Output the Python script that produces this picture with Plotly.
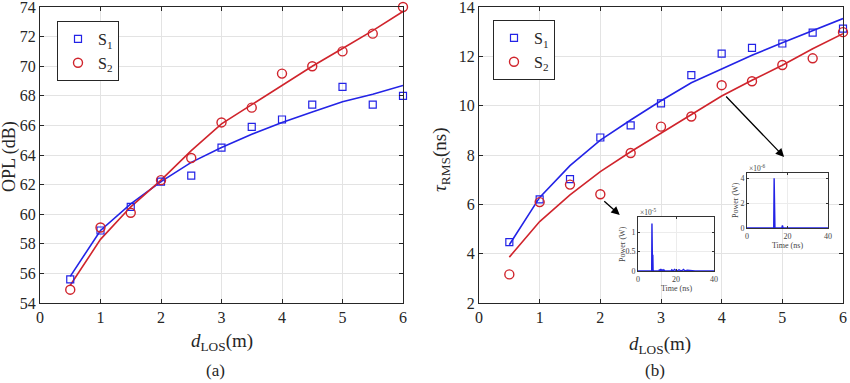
import plotly.graph_objects as go

# ---------------- data ----------------
d = [0.5, 1, 1.5, 2, 2.5, 3, 3.5, 4, 4.5, 5, 5.5, 6]
opl_s1 = [55.6, 58.9, 60.5, 62.2, 62.6, 64.5, 65.9, 66.4, 67.4, 68.6, 67.4, 68.0]
opl_s2 = [54.9, 59.1, 60.1, 62.3, 63.8, 66.2, 67.2, 69.5, 70.0, 71.0, 72.2, 74.0]
opl_fit_s1 = [55.8, 58.9, 60.7, 62.2, 63.5, 64.5, 65.4, 66.2, 66.9, 67.6, 68.1, 68.7]
opl_fit_s2 = [55.2, 58.3, 60.5, 62.3, 64.3, 66.1, 67.4, 68.7, 70.0, 71.2, 72.4, 73.7]

tau_s1 = [4.47, 6.2, 7.02, 8.71, 9.2, 10.09, 11.24, 12.11, 12.34, 12.52, 12.96, 13.12]
tau_s2 = [3.16, 6.09, 6.8, 6.41, 8.08, 9.15, 9.56, 10.83, 10.99, 11.65, 11.92, 12.98]
tau_fit_s1 = [4.36, 6.28, 7.57, 8.6, 9.42, 10.2, 10.93, 11.5, 12.04, 12.55, 13.03, 13.53]
tau_fit_s2 = [3.86, 5.3, 6.38, 7.33, 8.13, 8.88, 9.62, 10.39, 11.03, 11.64, 12.31, 12.92]

# inset impulse responses (power in units of the axis exponent)
ir1_t = [0, 7.2, 7.35, 7.5, 7.65, 7.8, 7.95, 8.1, 8.3, 11.0, 11.3, 11.6, 12.0, 12.4, 12.8,
         13.2, 13.6, 14.2, 17.4, 17.8, 18.6, 19.2, 20.4, 21.6, 22.8, 24.0, 24.6, 26.0, 30.0, 40]
ir1_p = [0, 0, 1.22, 0.05, 0, 0.42, 0.02, 0, 0, 0, 0.04, 0, 0.05, 0, 0.04,
         0, 0.03, 0, 0, 0.03, 0, 0.04, 0, 0.03, 0, 0.04, 0, 0.02, 0, 0]
ir2_t = [0, 13.2, 13.4, 13.6, 13.8, 17.2, 17.5, 17.8, 22, 28, 40]
ir2_p = [0, 0, 4.02, 0, 0, 0, 0.2, 0, 0.02, 0.01, 0]

series_names = ["S<sub>1</sub>", "S<sub>2</sub>"]
x_ticks = [0, 1, 2, 3, 4, 5, 6]
opl_ticks = [54, 56, 58, 60, 62, 64, 66, 68, 70, 72, 74]
tau_ticks = [2, 4, 6, 8, 10, 12, 14]

BLUE = "#2323e6"
RED = "#d0242c"
FONT = "Liberation Serif"
W, H = 850, 383


def px(x):
    return x / W


def py(y):
    return 1 - y / H


fig = go.Figure()

# left panel
fig.add_trace(go.Scatter(x=d, y=opl_fit_s1, mode="lines", line=dict(color=BLUE, width=1.6),
                         showlegend=False, xaxis="x", yaxis="y"))
fig.add_trace(go.Scatter(x=d, y=opl_fit_s2, mode="lines", line=dict(color=RED, width=1.6),
                         showlegend=False, xaxis="x", yaxis="y"))
fig.add_trace(go.Scatter(x=d, y=opl_s1, mode="markers", name=series_names[0],
                         marker=dict(symbol="square-open", size=7, color=BLUE, line=dict(width=1.2)),
                         xaxis="x", yaxis="y", legend="legend", cliponaxis=False))
fig.add_trace(go.Scatter(x=d, y=opl_s2, mode="markers", name=series_names[1],
                         marker=dict(symbol="circle-open", size=9, color=RED, line=dict(width=1.4)),
                         xaxis="x", yaxis="y", legend="legend", cliponaxis=False))

# right panel
fig.add_trace(go.Scatter(x=d, y=tau_fit_s1, mode="lines", line=dict(color=BLUE, width=1.6),
                         showlegend=False, xaxis="x2", yaxis="y2"))
fig.add_trace(go.Scatter(x=d, y=tau_fit_s2, mode="lines", line=dict(color=RED, width=1.6),
                         showlegend=False, xaxis="x2", yaxis="y2"))
fig.add_trace(go.Scatter(x=d, y=tau_s1, mode="markers", name=series_names[0],
                         marker=dict(symbol="square-open", size=7, color=BLUE, line=dict(width=1.2)),
                         xaxis="x2", yaxis="y2", legend="legend2", cliponaxis=False))
fig.add_trace(go.Scatter(x=d, y=tau_s2, mode="markers", name=series_names[1],
                         marker=dict(symbol="circle-open", size=9, color=RED, line=dict(width=1.4)),
                         xaxis="x2", yaxis="y2", legend="legend2", cliponaxis=False))

# insets
fig.add_trace(go.Scatter(x=ir1_t, y=ir1_p, mode="lines", line=dict(color=BLUE, width=1.4),
                         showlegend=False, xaxis="x3", yaxis="y3"))
fig.add_trace(go.Scatter(x=ir2_t, y=ir2_p, mode="lines", line=dict(color=BLUE, width=1.4),
                         showlegend=False, xaxis="x4", yaxis="y4"))

axis_common = dict(showline=True, linecolor="#262626", linewidth=1, mirror="ticks",
                   ticks="inside", ticklen=4, tickcolor="#262626",
                   showgrid=True, gridcolor="#e3e3e3", gridwidth=1, zeroline=False,
                   ticklabeloverflow="allow",
                   tickfont=dict(family=FONT, size=16, color="#262626"), automargin=False)
inset_common = dict(showline=True, linecolor="#333333", linewidth=0.8, mirror="ticks",
                    ticks="inside", ticklen=2, tickcolor="#333333",
                    showgrid=True, gridcolor="#ececec", zeroline=False,
                    ticklabeloverflow="allow",
                    tickfont=dict(family=FONT, size=8, color="#444444"), automargin=False)

fig.update_layout(
    width=W, height=H, template="none",
    margin=dict(l=0, r=0, t=0, b=0),
    paper_bgcolor="white", plot_bgcolor="white",
    xaxis=dict(domain=[px(40), px(403)], range=[0, 6], tickvals=x_ticks, anchor="y", **axis_common),
    yaxis=dict(domain=[py(303), py(7)], range=[54, 74], tickvals=opl_ticks, anchor="x", **axis_common),
    xaxis2=dict(domain=[px(479), px(843)], range=[0, 6], tickvals=x_ticks, anchor="y2", **axis_common),
    yaxis2=dict(domain=[py(303), py(7)], range=[2, 14], tickvals=tau_ticks, anchor="x2", **axis_common),
    xaxis3=dict(domain=[px(638), px(714)], range=[0, 40], tickvals=[0, 20, 40], anchor="y3", **inset_common),
    yaxis3=dict(domain=[py(271), py(217)], range=[0, 1.39], tickvals=[0, 0.5, 1], anchor="x3", **inset_common),
    xaxis4=dict(domain=[px(747), px(828)], range=[0, 40], tickvals=[0, 20, 40], anchor="y4", **inset_common),
    yaxis4=dict(domain=[py(228), py(173)], range=[0, 4.45], tickvals=[0, 2, 4], anchor="x4", **inset_common),
    legend=dict(x=px(57), y=py(21), xanchor="left", yanchor="top", bgcolor="white",
                bordercolor="#262626", borderwidth=1, itemwidth=30,
                font=dict(family=FONT, size=16, color="#262626"), tracegroupgap=0),
    legend2=dict(x=px(493), y=py(20), xanchor="left", yanchor="top", bgcolor="white",
                 bordercolor="#262626", borderwidth=1, itemwidth=30,
                 font=dict(family=FONT, size=16, color="#262626"), tracegroupgap=0),
)

# opaque inset backgrounds (drawn in the inset subplots, above the main panel)
for ax in ["x3", "x4"]:
    ya = "y" + ax[1:]
    fig.add_shape(type="rect", xref=ax + " domain", yref=ya + " domain", x0=0, x1=1, y0=0, y1=1,
                  fillcolor="white", line=dict(width=0), layer="below")

ann = []


def label(text, x, y, size, angle=0, xanchor="center", color="#262626"):
    ann.append(dict(text=text, x=px(x), y=py(y), xref="paper", yref="paper", textangle=angle,
                    xanchor=xanchor, yanchor="middle", showarrow=False,
                    font=dict(family=FONT, size=size, color=color)))


label("OPL (dB)", 10, 157, 18, angle=-90)
label("<i>τ</i><sub>RMS</sub>(ns)", 441, 160, 19, angle=-90)
label("<i>d</i><sub>LOS</sub>(m)", 222, 342, 19)
label("<i>d</i><sub>LOS</sub>(m)", 660, 345, 19)
label("(a)", 215, 370, 17)
label("(b)", 655, 370, 17)

# inset 1 labels
label("Power (W)", 622, 244, 8, angle=-90, color="#444444")
label("Time (ns)", 676, 288, 8, color="#444444")
label("×10<sup>-5</sup>", 638, 212, 7.5, xanchor="left", color="#444444")
# inset 2 labels
label("Power (W)", 735, 200, 8, angle=-90, color="#444444")
label("Time (ns)", 787, 245, 8, color="#444444")
label("×10<sup>-6</sup>", 747, 168, 7.5, xanchor="left", color="#444444")

# arrows pointing to the insets
ann.append(dict(text="", x=5.03, y=7.92, ax=4.05, ay=10.43, xref="x2", yref="y2", axref="x2", ayref="y2",
                showarrow=True, arrowhead=2, arrowsize=1.3, arrowwidth=1.3, arrowcolor="black"))
ann.append(dict(text="", x=2.32, y=5.57, ax=2.04, ay=6.18, xref="x2", yref="y2", axref="x2", ayref="y2",
                showarrow=True, arrowhead=2, arrowsize=1.3, arrowwidth=1.3, arrowcolor="black"))

fig.update_layout(annotations=ann)

fig.write_html("out.html", config={"displayModeBar": False},
               post_script="document.body.style.margin='0';")
